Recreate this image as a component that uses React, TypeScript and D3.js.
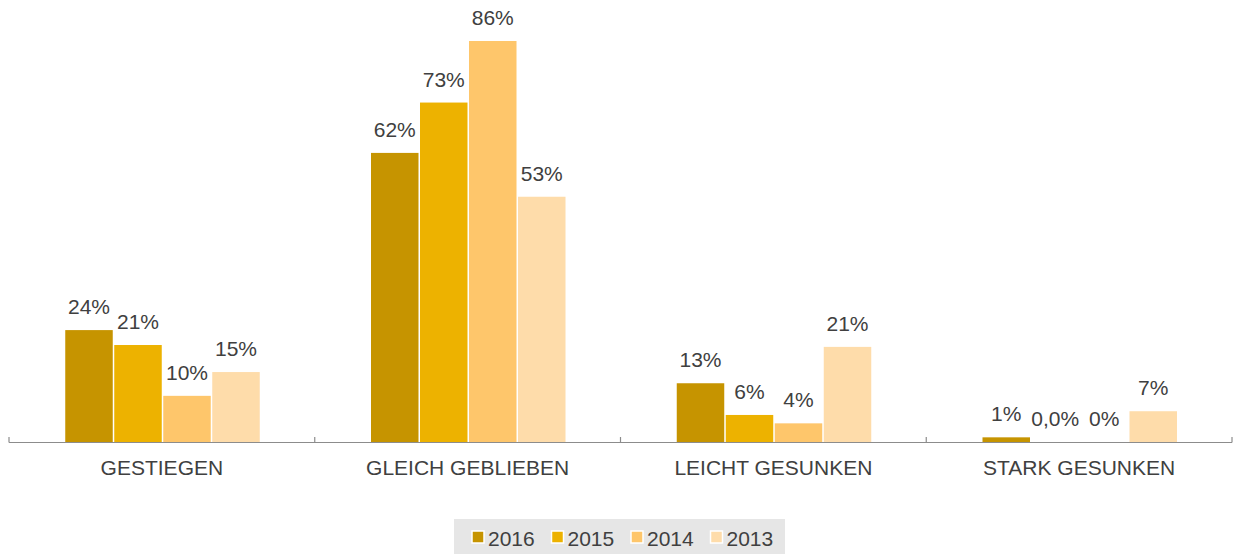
import React, { useRef, useEffect } from 'react';
import * as d3 from 'd3';

const categories = ['GESTIEGEN', 'GLEICH GEBLIEBEN', 'LEICHT GESUNKEN', 'STARK GESUNKEN'];
const years = ['2016', '2015', '2014', '2013'];
const values2016 = [24, 62, 12.6, 1];
const values2015 = [20.8, 72.8, 5.8, 0];
const values2014 = [9.9, 86, 4, 0];
const values2013 = [15, 52.6, 20.4, 6.6];
const labels2016 = ['24%', '62%', '13%', '1%'];
const labels2015 = ['21%', '73%', '6%', '0,0%'];
const labels2014 = ['10%', '86%', '4%', '0%'];
const labels2013 = ['15%', '53%', '21%', '7%'];
const colors = ['#C69400', '#EDB200', '#FEC66B', '#FEDCAA'];

const width = 1234;
const height = 554;

const App = () => {
  const svgRef = useRef<SVGSVGElement>(null);

  useEffect(() => {
    const svg = d3.select(svgRef.current);
    svg.selectAll('*').remove();

    const font = '"Liberation Sans", Arial, sans-serif';
    const textColor = '#404040';
    const baseY = 442;

    const series = [
      { year: years[0], values: values2016, labels: labels2016, color: colors[0] },
      { year: years[1], values: values2015, labels: labels2015, color: colors[1] },
      { year: years[2], values: values2014, labels: labels2014, color: colors[2] },
      { year: years[3], values: values2013, labels: labels2013, color: colors[3] },
    ];

    const x0 = d3.scaleBand().domain(categories).range([9, 1232]).padding(0);
    const x1 = d3.scaleBand().domain(years).range([55.5, 251.5]).padding(0);
    const y = d3.scaleLinear().domain([0, 86]).range([baseY, 41]);

    // bars
    series.forEach(s => {
      const g = svg.append('g');
      g.selectAll('rect')
        .data(categories)
        .join('rect')
        .attr('x', c => x0(c)! + x1(s.year)! + 0.75)
        .attr('y', (c, i) => y(s.values[i]))
        .attr('width', x1.bandwidth() - 1.5)
        .attr('height', (c, i) => baseY - y(s.values[i]))
        .attr('fill', s.color);

      g.selectAll('text')
        .data(categories)
        .join('text')
        .attr('x', c => x0(c)! + x1(s.year)! + x1.bandwidth() / 2)
        .attr('y', (c, i) => y(s.values[i]) - 16)
        .attr('text-anchor', 'middle')
        .attr('font-family', font)
        .attr('font-size', '21px')
        .attr('fill', textColor)
        .text((c, i) => s.labels[i]);
    });

    // axis line and ticks
    svg.append('line')
      .attr('x1', 9).attr('x2', 1232)
      .attr('y1', baseY + 0.5).attr('y2', baseY + 0.5)
      .attr('stroke', '#8c8c8c').attr('stroke-width', 1.2);

    const tickPos = categories.map(c => x0(c)!).concat([1232]);
    svg.selectAll('line.tick')
      .data(tickPos)
      .join('line')
      .attr('class', 'tick')
      .attr('x1', d => d).attr('x2', d => d)
      .attr('y1', baseY - 5).attr('y2', baseY + 0.5)
      .attr('stroke', '#8c8c8c').attr('stroke-width', 1.2);

    svg.selectAll('text.cat')
      .data(categories)
      .join('text')
      .attr('class', 'cat')
      .attr('x', c => x0(c)! + x0.bandwidth() / 2)
      .attr('y', 475)
      .attr('text-anchor', 'middle')
      .attr('font-family', font)
      .attr('font-size', '21px')
      .attr('fill', textColor)
      .text(c => c);

    // legend
    const legend = svg.append('g');
    legend.append('rect')
      .attr('x', 454).attr('y', 519)
      .attr('width', 331).attr('height', 35)
      .attr('fill', '#e6e6e6');

    const item = legend.selectAll('g.item')
      .data(series)
      .join('g')
      .attr('class', 'item')
      .attr('transform', (d, i) => `translate(${472 + i * 79.5},0)`);

    item.append('rect')
      .attr('x', 0).attr('y', 531)
      .attr('width', 12).attr('height', 12)
      .attr('fill', d => d.color)
      .attr('stroke', '#fff')
      .attr('stroke-width', 1.5);

    item.append('text')
      .attr('x', 16).attr('y', 546)
      .attr('font-family', font)
      .attr('font-size', '21px')
      .attr('fill', textColor)
      .text(d => d.year);
  }, []);

  return (
    <svg ref={svgRef} width={width} height={height}
      style={{ position: 'absolute', left: 0, top: 0 }} />
  );
};

export default App;
